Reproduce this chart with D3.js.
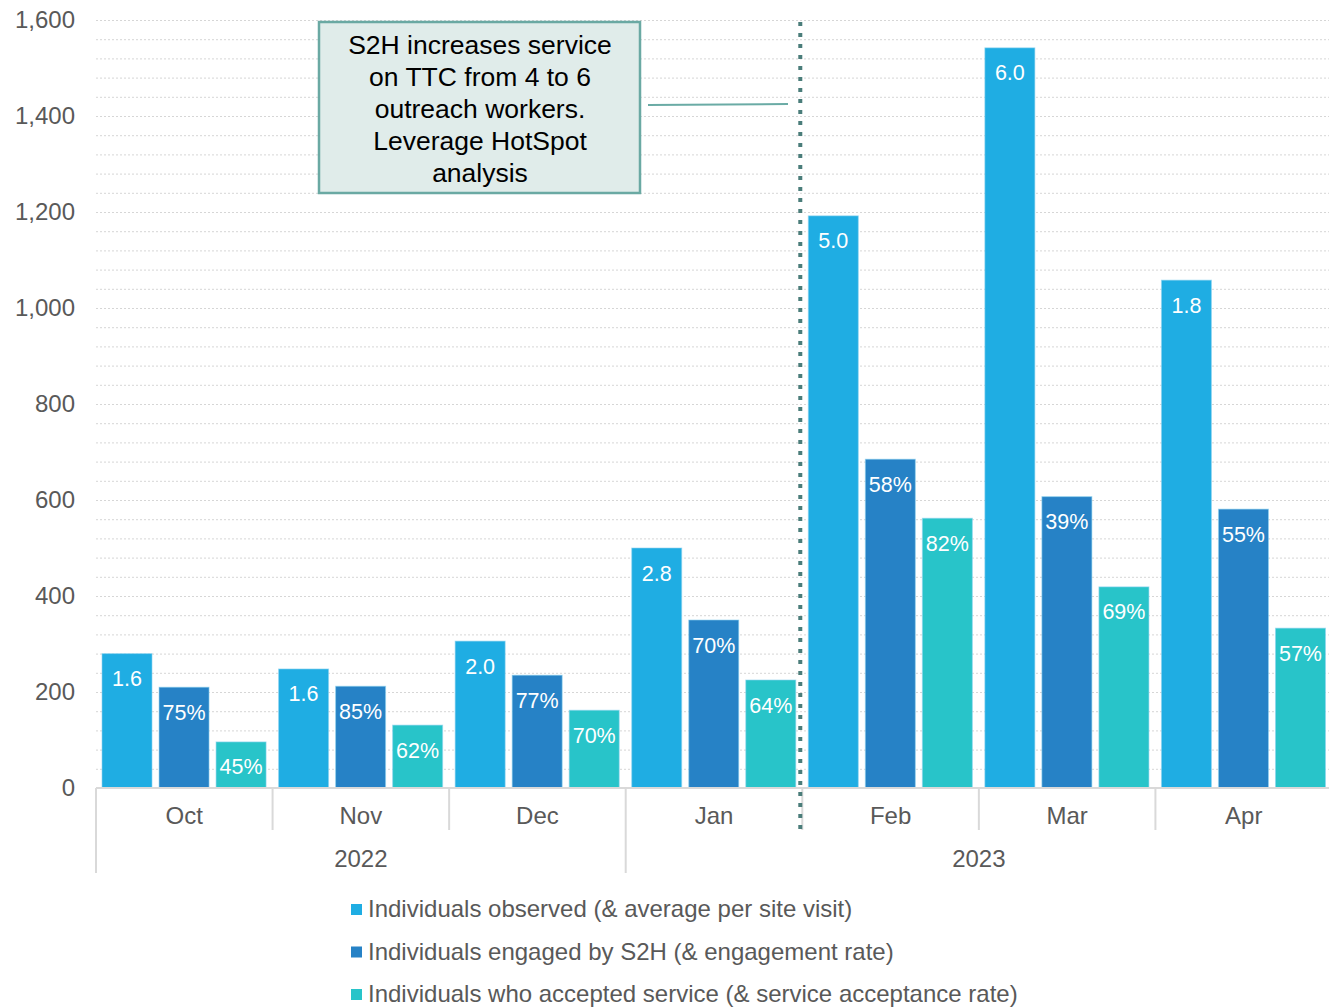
<!DOCTYPE html>
<html>
<head>
<meta charset="utf-8">
<script src="https://cdn.jsdelivr.net/npm/d3@7"></script>
<style>
  body { margin: 0; background: #fff; }
  svg { font-family: "Liberation Sans", Arial, sans-serif; }
</style>
</head>
<body>
<div id="chart"></div>
<script>
// data
var months = ["Oct", "Nov", "Dec", "Jan", "Feb", "Mar", "Apr"];
var years = [{label: "2022", from: 0, to: 3}, {label: "2023", from: 3, to: 7}];
var seriesNames = ["Individuals observed (& average per site visit)",
                   "Individuals engaged by S2H (& engagement rate)",
                   "Individuals who accepted service (& service acceptance rate)"];
var observed = [280, 248, 306, 500, 1192, 1542, 1058];
var engaged = [210, 212, 235, 350, 685, 607, 581];
var accepted = [96, 131, 162, 225, 562, 419, 333];
var observedLabels = ["1.6", "1.6", "2.0", "2.8", "5.0", "6.0", "1.8"];
var engagedLabels = ["75%", "85%", "77%", "70%", "58%", "39%", "55%"];
var acceptedLabels = ["45%", "62%", "70%", "64%", "82%", "69%", "57%"];
var yTicks = [0, 200, 400, 600, 800, 1000, 1200, 1400, 1600];
var noteLines = ["S2H increases service", "on TTC from 4 to 6", "outreach workers.", "Leverage HotSpot", "analysis"];

var colors = ["#1fade3", "#2682c6", "#28c4c9"];
var values = [observed, engaged, accepted];
var labels = [observedLabels, engagedLabels, acceptedLabels];

var W = 1329, H = 1007;
var svg = d3.select("#chart").append("svg").attr("width", W).attr("height", H);

var x0 = d3.scaleBand().domain(months).range([96, 1332]).padding(0);
var x1 = d3.scaleBand().domain([0, 1, 2]).range([6, x0.bandwidth() - 6.5]).paddingInner(0.123);
var y = d3.scaleLinear().domain([0, 1600]).range([788, 20]);

// gridlines (every 40)
var grid = svg.append("g");
grid.selectAll("line")
	.data(d3.range(40, 1601, 40))
	.enter().append("line")
	.attr("x1", 96).attr("x2", W)
	.attr("y1", function(d) { return y(d) + 0.5; })
	.attr("y2", function(d) { return y(d) + 0.5; })
	.attr("stroke", "#d6d6d6")
	.attr("stroke-width", 1)
	.attr("stroke-dasharray", "2,2");

// y axis labels
svg.append("g").selectAll("text")
	.data(yTicks)
	.enter().append("text")
	.attr("x", 75)
	.attr("y", function(d) { return y(d); })
	.attr("dy", "0.35em")
	.attr("text-anchor", "end")
	.attr("fill", "#595959")
	.style("font-size", "24px")
	.text(d3.format(","));

// bars
var groups = svg.append("g").selectAll("g")
	.data(months)
	.enter().append("g")
	.attr("transform", function(d) { return "translate(" + x0(d) + ",0)"; });

groups.each(function(m, i) {
	var g = d3.select(this);
	[0, 1, 2].forEach(function(s) {
		var v = values[s][i];
		g.append("rect")
			.attr("x", x1(s))
			.attr("y", y(v))
			.attr("width", x1.bandwidth())
			.attr("height", y(0) - y(v))
			.attr("fill", colors[s])
			.attr("stroke", "#8fd3f0")
			.attr("stroke-opacity", 0.6)
			.attr("stroke-width", 1);
		g.append("text")
			.attr("x", x1(s) + x1.bandwidth() / 2)
			.attr("y", y(v) + 25)
			.attr("dy", "0.35em")
			.attr("text-anchor", "middle")
			.attr("fill", "#fff")
			.style("font-size", "21.5px")
			.text(labels[s][i]);
	});
});

// category axis
var axis = svg.append("g").attr("stroke", "#d9d9d9").attr("stroke-width", 2);
axis.append("line").attr("x1", 96).attr("x2", W).attr("y1", 788).attr("y2", 788);
months.forEach(function(m, i) {
	var xb = x0(m);
	var isYear = years.some(function(yr) { return yr.from === i; });
	axis.append("line")
		.attr("x1", xb).attr("x2", xb)
		.attr("y1", 788).attr("y2", isYear ? 873 : 830);
});

svg.append("g").selectAll("text")
	.data(months)
	.enter().append("text")
	.attr("x", function(d) { return x0(d) + x0.bandwidth() / 2; })
	.attr("y", 816)
	.attr("dy", "0.35em")
	.attr("text-anchor", "middle")
	.attr("fill", "#595959")
	.style("font-size", "24px")
	.text(function(d) { return d; });

svg.append("g").selectAll("text")
	.data(years)
	.enter().append("text")
	.attr("x", function(d) {
		var a = x0(months[d.from]);
		var b = d.to < months.length ? x0(months[d.to]) : x0.range()[1];
		return (a + b) / 2;
	})
	.attr("y", 859)
	.attr("dy", "0.35em")
	.attr("text-anchor", "middle")
	.attr("fill", "#595959")
	.style("font-size", "24px")
	.text(function(d) { return d.label; });

// vertical dotted divider between Jan and Feb
var divX = x0("Feb") - 2;
svg.append("line")
	.attr("x1", divX).attr("x2", divX)
	.attr("y1", 22).attr("y2", 830)
	.attr("stroke", "#4a7d7a")
	.attr("stroke-width", 4)
	.attr("stroke-dasharray", "4,7");

// annotation
svg.append("line")
	.attr("x1", 648).attr("x2", 788)
	.attr("y1", 105).attr("y2", 104)
	.attr("stroke", "#6aaba5")
	.attr("stroke-width", 2);

svg.append("rect")
	.attr("x", 319).attr("y", 22)
	.attr("width", 321).attr("height", 171)
	.attr("fill", "#e0ecea")
	.attr("stroke", "#6aa9a3")
	.attr("stroke-width", 2.5);

svg.append("g").selectAll("text")
	.data(noteLines)
	.enter().append("text")
	.attr("x", 480)
	.attr("y", function(d, i) { return 45 + i * 32; })
	.attr("dy", "0.35em")
	.attr("text-anchor", "middle")
	.attr("fill", "#000")
	.style("font-size", "26.5px")
	.text(function(d) { return d; });

// legend
var legend = svg.append("g").selectAll("g")
	.data(seriesNames)
	.enter().append("g")
	.attr("transform", function(d, i) { return "translate(351," + (909 + i * 42.5) + ")"; });

legend.append("rect")
	.attr("x", 0).attr("y", -5)
	.attr("width", 11).attr("height", 11)
	.attr("fill", function(d, i) { return colors[i]; });

legend.append("text")
	.attr("x", 17)
	.attr("dy", "0.35em")
	.attr("fill", "#595959")
	.style("font-size", "24px")
	.text(function(d) { return d; });
</script>
</body>
</html>
